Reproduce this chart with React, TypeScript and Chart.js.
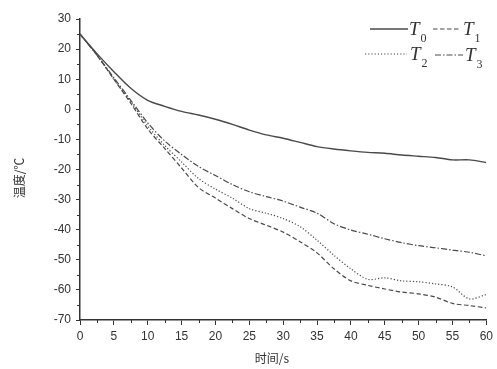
import React, { useEffect, useRef } from "react";
import { Chart, registerables } from "chart.js";

Chart.register(...registerables);

const times = [0, 2.5, 5, 7.5, 10, 12.5, 15, 17.5, 20, 22.5, 25, 27.5, 30, 32.5, 35, 37.5, 40, 42.5, 45, 47.5, 50, 52.5, 55, 57.5, 60];

const t0Values = [25, 18.5, 12.5, 7, 3, 1, -0.7, -1.9, -3.3, -5, -6.9, -8.5, -9.6, -11, -12.4, -13.2, -13.8, -14.3, -14.6, -15.2, -15.6, -16, -16.8, -16.8, -17.7];
const t1Values = [25, 18, 10, 2, -6.5, -13, -19.5, -26, -29.5, -33, -36.3, -38.5, -40.8, -44, -47.7, -53, -57, -58.5, -59.7, -60.7, -61.3, -62.4, -64.5, -65.2, -66];
const t2Values = [25, 18, 10, 2.5, -5.5, -12, -17.5, -23, -26.5, -29.5, -33, -34.5, -36.3, -39, -43.5, -48.5, -53, -56.5, -56, -57, -57.3, -58, -59, -63, -61.5];
const t3Values = [25, 18, 10.5, 3, -4.5, -10.5, -15, -19, -22, -25, -27.4, -29, -30.5, -32.5, -34.5, -38, -40.1, -41.5, -43, -44.3, -45.3, -46, -46.8, -47.5, -48.7];

const seriesSubs = ["0", "1", "2", "3"];
const xTitle = "时间/s";
const yTitle = "温度/℃";
const xMin = 0, xMax = 60, xStep = 5, xMinorStep = 2.5;
const yMin = -70, yMax = 30, yStep = 10, yMinorStep = 5;

const LINE = "#4a4a4a";
const AXIS = "#333";
const dashes: number[][] = [[], [4.5, 2.5], [1.2, 2], [6, 2, 1.5, 2]];

export default function App() {
  const ref = useRef<HTMLCanvasElement>(null);
  useEffect(() => {
    if (!ref.current) return;
    const allValues = [t0Values, t1Values, t2Values, t3Values];
    const extras = {
      id: "extras",
      afterDraw(chart: any) {
        const ctx = chart.ctx as CanvasRenderingContext2D;
        const xs = chart.scales.x;
        const ys = chart.scales.y;
        const area = chart.chartArea;
        ctx.save();
        ctx.strokeStyle = AXIS;
        ctx.lineWidth = 1;
        for (let v = xMin; v <= xMax + 1e-6; v += xMinorStep) {
          if (Math.abs(v / xStep - Math.round(v / xStep)) < 1e-6) continue;
          const px = Math.round(xs.getPixelForValue(v)) + 0.5;
          ctx.beginPath();
          ctx.moveTo(px, area.bottom);
          ctx.lineTo(px, area.bottom + 3);
          ctx.stroke();
        }
        for (let v = yMin; v <= yMax + 1e-6; v += yMinorStep) {
          if (Math.abs(v / yStep - Math.round(v / yStep)) < 1e-6) continue;
          const py = Math.round(ys.getPixelForValue(v)) + 0.5;
          ctx.beginPath();
          ctx.moveTo(area.left - 3, py);
          ctx.lineTo(area.left, py);
          ctx.stroke();
        }
        ctx.fillStyle = "#333";
        ctx.font = "12px 'Noto Sans CJK SC', sans-serif";
        ctx.textAlign = "center";
        ctx.textBaseline = "middle";
        ctx.fillText(xTitle, 272, 358);
        ctx.save();
        ctx.translate(19, 178);
        ctx.rotate(-Math.PI / 2);
        ctx.fillText(yTitle, 0, 0);
        ctx.restore();
        const items = [
          { x1: 370, x2: 408, ly: 29, tx: 409, by: 35 },
          { x1: 433, x2: 461, ly: 29, tx: 463, by: 35 },
          { x1: 365, x2: 407, ly: 54, tx: 410, by: 60 },
          { x1: 435, x2: 463, ly: 55, tx: 465, by: 61 },
        ];
        items.forEach((it, i) => {
          ctx.strokeStyle = LINE;
          ctx.lineWidth = i === 0 ? 1.6 : 1.2;
          ctx.setLineDash(dashes[i]);
          ctx.beginPath();
          ctx.moveTo(it.x1, it.ly);
          ctx.lineTo(it.x2, it.ly);
          ctx.stroke();
          ctx.setLineDash([]);
          ctx.fillStyle = "#333";
          ctx.textAlign = "left";
          ctx.textBaseline = "alphabetic";
          ctx.font = "italic 19px 'Liberation Serif', serif";
          ctx.fillText("T", it.tx, it.by);
          const w = ctx.measureText("T").width;
          ctx.font = "12px 'Liberation Serif', serif";
          ctx.fillText(seriesSubs[i], it.tx + w + 1, it.by + 7);
        });
        ctx.restore();
      },
    };

    const chart = new Chart(ref.current, {
      type: "line",
      data: {
        datasets: allValues.map((vals, i) => ({
          label: "T" + seriesSubs[i],
          data: times.map((t, k) => ({ x: t, y: vals[k] })),
          borderColor: LINE,
          borderWidth: i === 0 ? 1.4 : 1.2,
          borderDash: dashes[i],
          pointRadius: 0,
          tension: 0.3,
          fill: false,
        })),
      },
      options: {
        animation: false,
        responsive: false,
        devicePixelRatio: 1,
        layout: { padding: { top: 19, right: 6, left: 0, bottom: 0 } },
        plugins: { legend: { display: false }, tooltip: { enabled: false } },
        scales: {
          x: {
            type: "linear",
            min: xMin,
            max: xMax,
            afterFit(scale: any) { scale.height = 49; },
            ticks: {
              stepSize: xStep,
              color: "#333",
              font: { family: "'Liberation Sans', Arial, sans-serif", size: 12 },
              padding: 4,
              maxRotation: 0,
              autoSkip: false,
            },
            grid: { drawOnChartArea: false, drawTicks: true, tickLength: 5, tickColor: AXIS, tickWidth: 1 },
            border: { display: true, color: AXIS, width: 1.5 },
          },
          y: {
            type: "linear",
            min: yMin,
            max: yMax,
            afterFit(scale: any) { scale.width = 80; },
            ticks: {
              stepSize: yStep,
              color: "#333",
              font: { family: "'Liberation Sans', Arial, sans-serif", size: 12 },
              padding: 5,
            },
            grid: { drawOnChartArea: false, drawTicks: true, tickLength: 4, tickColor: AXIS, tickWidth: 1 },
            border: { display: true, color: AXIS, width: 1.5 },
          },
        },
      },
      plugins: [extras],
    });
    return () => chart.destroy();
  }, []);
  return (
    <div style={{ position: "fixed", left: 0, top: 0, width: 497, height: 369, background: "#fff" }}>
      <canvas ref={ref} width={497} height={369} style={{ display: "block" }} />
    </div>
  );
}
